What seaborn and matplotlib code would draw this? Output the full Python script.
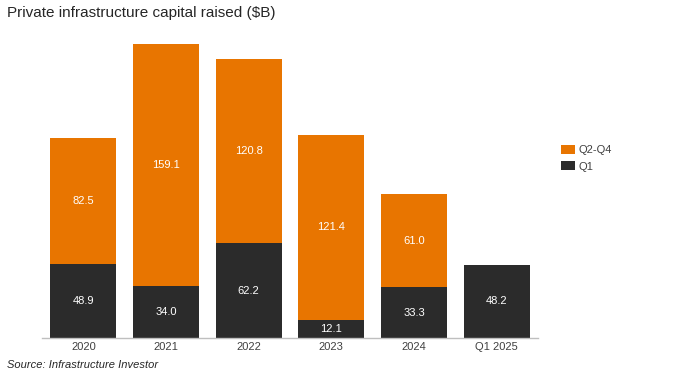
import matplotlib
matplotlib.use("Agg")
import matplotlib.pyplot as plt
import seaborn as sns
import pandas as pd
from matplotlib.patches import Patch

categories = ["2020", "2021", "2022", "2023", "2024", "Q1 2025"]
q1 = [48.9, 34.0, 62.2, 12.1, 33.3, 48.2]
q2_q4 = [82.5, 159.1, 120.8, 121.4, 61.0, 0.0]

sns.set_theme(style="white")
plt.rcParams["font.family"] = ["Liberation Sans", "DejaVu Sans"]

ORANGE = "#E87500"
DARK = "#2B2B2B"

df = pd.DataFrame({"cat": categories, "q1": q1, "q2_q4": q2_q4})
df["total"] = df["q1"] + df["q2_q4"]

fig = plt.figure(figsize=(6.81, 3.83), dpi=100)
ax = fig.add_axes([0.0617, 0.1175, 0.7283, 0.7953])

sns.barplot(data=df, x="cat", y="total", color=ORANGE, width=0.8,
            saturation=1, ax=ax, order=categories, linewidth=0)
sns.barplot(data=df, x="cat", y="q1", color=DARK, width=0.8,
            saturation=1, ax=ax, order=categories, linewidth=0)

for i, (a, b) in enumerate(zip(q1, q2_q4)):
    ax.text(i, a / 2, f"{a:.1f}", ha="center", va="center", color="white", fontsize=8)
    if b > 0:
        ax.text(i, a + b / 2, f"{b:.1f}", ha="center", va="center", color="white", fontsize=8)

ax.set_ylim(0, 200)
ax.set_xlim(-0.5, 5.5)
ax.set_xlabel("")
ax.set_ylabel("")
ax.set_yticks([])
for s in ["top", "right", "left"]:
    ax.spines[s].set_visible(False)
ax.spines["bottom"].set_color("#BFBFBF")
ax.spines["bottom"].set_linewidth(1)
ax.tick_params(axis="x", length=0, labelsize=8, labelcolor="#404040", pad=3)

handles = [Patch(facecolor=ORANGE, label="Q2-Q4", linewidth=0),
           Patch(facecolor=DARK, label="Q1", linewidth=0)]
fig.legend(handles=handles, loc="upper left", bbox_to_anchor=(0.809, 0.647),
           frameon=False, fontsize=8, handlelength=1.3, handleheight=0.8,
           handletextpad=0.3, labelspacing=0.55, labelcolor="#404040")

fig.text(0.010, 0.965, "Private infrastructure capital raised ($B)", fontsize=11,
         color="#262626", ha="left", va="center")
fig.text(0.010, 0.048, "Source: Infrastructure Investor", fontsize=8,
         style="italic", color="#262626", ha="left", va="center")

fig.savefig("out.png", dpi=100)
